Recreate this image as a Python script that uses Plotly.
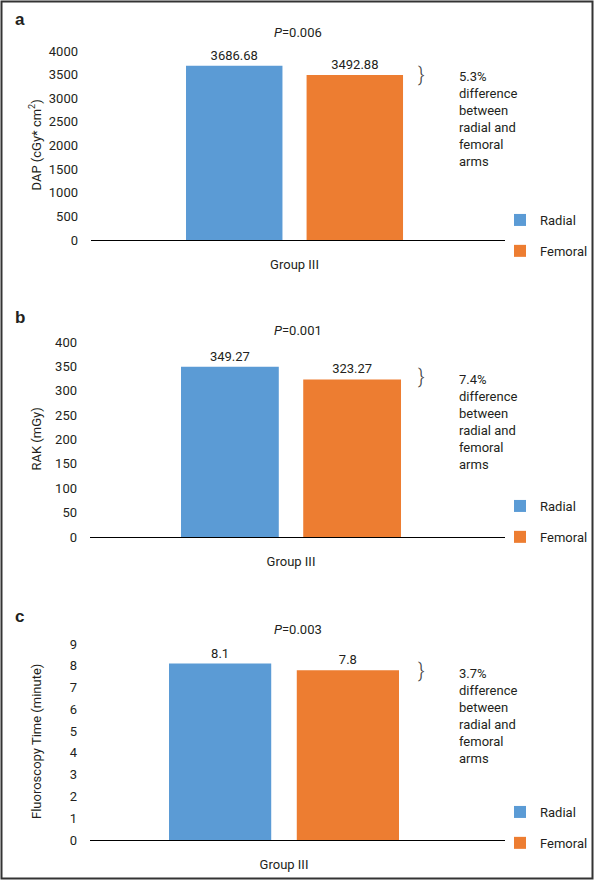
import plotly.graph_objects as go

# ---------------- data ----------------
categories = ["Group III"]
series_names = ["Radial", "Femoral"]
dap_values = [3686.68, 3492.88]
rak_values = [349.27, 323.27]
fluoro_values = [8.1, 7.8]
p_values = ["0.006", "0.001", "0.003"]
diff_pcts = ["5.3%", "7.4%", "3.7%"]
panel_letters = ["a", "b", "c"]
y_titles = ["DAP (cGy* cm<sup>2</sup>)", "RAK (mGy)", "Fluoroscopy Time (minute)"]
y_ranges = [[0, 4000], [0, 400], [0, 9]]
y_dticks = [500, 50, 1]

colors = ["#5B9BD5", "#ED7D31"]
TXT = "#231F20"
FONT = "Roboto, Liberation Sans, sans-serif"
FS = 13

W, H = 594, 880
def fx(px):
    return px / W
def fy(py):
    return 1 - py / H

# ---------------- layout geometry (pixels) ----------------
panels = [
    dict(values=dap_values, xd=(91, 505), yd=(240, 51), xr=[-0.4912, 0.508],
         letter_y=19, p_y=32, br_y=74, note_y=119.5, leg_y=205),
    dict(values=rak_values, xd=(90, 505), yd=(537, 342), xr=[-0.4786, 0.5095],
         letter_y=317, p_y=330, br_y=376, note_y=421.5, leg_y=491),
    dict(values=fluoro_values, xd=(90, 505), yd=(840, 644), xr=[-0.4418, 0.5033],
         letter_y=616, p_y=629, br_y=669.5, note_y=716, leg_y=797),
]

fig = go.Figure()
annotations = []
layout_axes = {}

for i, pnl in enumerate(panels):
    n = "" if i == 0 else str(i + 1)
    leg = "legend" if i == 0 else f"legend{i + 1}"
    for j, name in enumerate(series_names):
        fig.add_trace(go.Bar(
            x=categories, y=[pnl["values"][j]], name=name,
            marker=dict(color=colors[j], line=dict(width=0)),
            text=[str(pnl["values"][j])], textposition="outside",
            textfont=dict(family=FONT, size=FS, color=TXT),
            cliponaxis=False,
            xaxis="x" + n, yaxis="y" + n, legend=leg,
            legendgroup=f"{name}{i}",
        ))
    layout_axes["xaxis" + n] = dict(
        domain=[fx(pnl["xd"][0]), fx(pnl["xd"][1])],
        anchor="y" + n, range=pnl["xr"], type="category",
        showline=True, linecolor="#000000", linewidth=1,
        showgrid=False, zeroline=False, ticks="",
        ticklabelstandoff=12,
        tickfont=dict(family=FONT, size=FS, color=TXT),
    )
    layout_axes["yaxis" + n] = dict(
        domain=[fy(pnl["yd"][0]), fy(pnl["yd"][1])],
        anchor="x" + n, range=y_ranges[i], dtick=y_dticks[i],
        showline=False, showgrid=False, zeroline=False, ticks="",
        ticklabelstandoff=12,
        tickfont=dict(family=FONT, size=FS, color=TXT),
    )
    layout_axes[leg] = dict(
        x=fx(500), y=fy(pnl["leg_y"]), xanchor="left", yanchor="top",
        font=dict(family=FONT, size=FS, color=TXT),
        bgcolor="rgba(0,0,0,0)", tracegroupgap=11,
        traceorder="grouped",
    )
    common = dict(xref="paper", yref="paper", showarrow=False)
    # panel letter
    annotations.append(dict(
        text=f"<b>{panel_letters[i]}</b>", x=fx(19.5), y=fy(pnl["letter_y"]),
        xanchor="center", yanchor="middle",
        font=dict(family="Liberation Sans, Arial, sans-serif", size=17, color=TXT),
        **common,
    ))
    # p value
    annotations.append(dict(
        text=f"<i>P</i>=" + p_values[i], x=fx(298), y=fy(pnl["p_y"]),
        xanchor="center", yanchor="middle",
        font=dict(family=FONT, size=FS, color=TXT), **common,
    ))
    # bracket
    annotations.append(dict(
        text="}", x=fx(421.5), y=fy(pnl["br_y"]),
        xanchor="center", yanchor="middle",
        font=dict(family=FONT, size=20, color="#444444", weight=300), **common,
    ))
    # note
    annotations.append(dict(
        text=diff_pcts[i] + "<br>difference<br>between<br>radial and<br>femoral<br>arms",
        x=fx(457), y=fy(pnl["note_y"]), xanchor="left", yanchor="middle",
        align="left", font=dict(family=FONT, size=FS, color=TXT), **common,
    ))
    # y title
    annotations.append(dict(
        text=y_titles[i], x=fx(36), y=fy((pnl["yd"][0] + pnl["yd"][1]) / 2),
        xanchor="center", yanchor="middle", textangle=-90,
        font=dict(family=FONT, size=FS, color=TXT), **common,
    ))

fig.update_layout(
    width=W, height=H, autosize=False,
    margin=dict(l=0, r=0, t=0, b=0, autoexpand=False),
    paper_bgcolor="white", plot_bgcolor="white",
    barmode="group", bargap=0.418, bargroupgap=0.2,
    showlegend=True,
    annotations=annotations,
    shapes=[dict(type="rect", xref="paper", yref="paper",
                 x0=fx(1.5), x1=fx(592.5), y0=fy(878.5), y1=fy(1.5),
                 line=dict(color="#333333", width=2))],
    **layout_axes,
)

fig.write_html(
    "out.html",
    config={"displayModeBar": False},
    post_script="document.documentElement.style.margin='0';"
                "document.body.style.margin='0';"
                "document.body.style.overflow='hidden';",
)
